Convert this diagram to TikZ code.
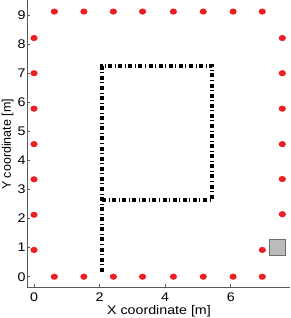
\documentclass[tikz,border=0pt]{standalone}
\usepackage{fontspec}
\setmainfont{Liberation Sans}[FakeStretch=1.14]
\newfontfamily\ylabfont{Liberation Sans}
\usetikzlibrary{shapes.geometric}
\definecolor{dotred}{RGB}{236,32,36}
\definecolor{boxfill}{RGB}{187,187,187}
\definecolor{boxdraw}{RGB}{110,110,110}
\definecolor{axisgray}{RGB}{90,90,90}
\tikzset{
  sensor/.style={ellipse, fill=dotred, draw=none, minimum width=7.2pt, minimum height=6.2pt, inner sep=0pt},
  anchorbox/.style={rectangle, fill=boxfill, draw=boxdraw, line width=0.7pt, minimum width=16pt, minimum height=16pt, inner sep=0pt},
  route/.style={line width=3.6pt, line join=miter, dash pattern=on 4pt off 2.6pt on 0.9pt off 2.6pt},
  axisline/.style={draw=axisgray, line width=0.8pt},
  ticklabel/.style={inner sep=0pt, font=\fontsize{12.5}{14}\selectfont},
}
\begin{document}
\begin{tikzpicture}[x=1pt,y=-1pt]
\useasboundingbox (0,0) rectangle (290,318);
\begin{scope}[shift={(34,276.7)}, x=32.8pt, y=29.07pt]
  % axes
  \coordinate (ytop) at (-0.2134,9.52);
  \coordinate (origin) at (-0.2134,-0.3715);
  \coordinate (xend) at (7.81,-0.3715);
  \draw[axisline] (ytop) -- (origin) -- (xend);
  \foreach \k in {0,...,9}{
    \draw[axisline] (-0.2134,\k) -- ++(3.2pt,0);
    \node[ticklabel, anchor=east] (yl\k) at (-0.25,\k) {\k};
  }
  \foreach \k in {0,2,4,6}{
    \draw[axisline] (\k,-0.3715) -- ++(0,3.2pt);
    \node[ticklabel, anchor=north] (xl\k) at (\k,-0.56) {\k};
  }
  \node[ticklabel, anchor=north] (xlab) at (3.81,-0.985) {X coordinate [m]};
  \node[inner sep=0pt, rotate=90, font=\ylabfont\fontsize{12.5}{14}\selectfont] (ylab) at (-0.80,4.55) {Y coordinate [m]};
  % sensors
  \foreach \x [count=\i] in {0.62,1.52,2.42,3.31,4.25,5.16,6.07,6.96}{
    \node[sensor] (t\i) at (\x,9.12) {};
    \node[sensor] (b\i) at (\x,0) {};
  }
  \foreach \y [count=\i] in {8.21,7.0,5.78,4.56,3.35,2.13,0.92}{
    \node[sensor] (l\i) at (0,\y) {};
  }
  \foreach \y [count=\i] in {8.21,7.0,5.78,4.56,3.36,2.15}{
    \node[sensor] (r\i) at (7.57,\y) {};
  }
  \node[sensor] (extra) at (6.96,0.92) {};
  \node[anchorbox] (base) at (7.42,1.0) {};
  % route
  \coordinate (p0) at (2.07,0.17);
  \coordinate (p1) at (2.07,7.25);
  \coordinate (p2) at (5.42,7.25);
  \coordinate (p3) at (5.42,2.64);
  \coordinate (p4) at (2.07,2.64);
  \draw[route] (p0) -- (p1) -- (p2) -- (p3) -- (p4);
\end{scope}
\end{tikzpicture}
\end{document}
